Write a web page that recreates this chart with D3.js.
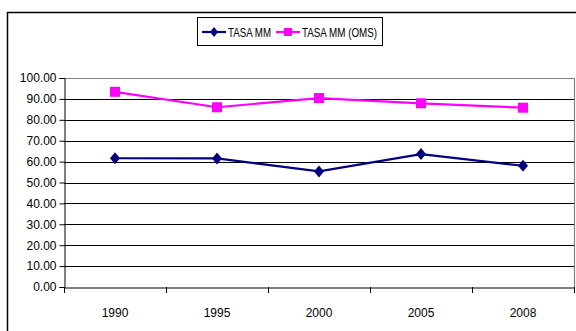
<!DOCTYPE html>
<html><head><meta charset="utf-8">
<script src="https://cdn.jsdelivr.net/npm/d3@7"></script>
<style>body{margin:0;background:#fff}svg{display:block}</style>
</head><body>
<svg id="c" width="576" height="331"></svg>
<script>
const years = ["1990","1995","2000","2005","2008"];
const tasaMM = [61.6, 61.5, 55.3, 63.6, 58.0];
const tasaOMS = [93.4, 86.0, 90.4, 87.9, 85.8];
const yTicks = [0,10,20,30,40,50,60,70,80,90,100];
const seriesNames = ["TASA MM","TASA MM (OMS)"];

const svg = d3.select("#c");
const L = 64, R = 574, T = 78, B = 287;
const x = d3.scaleBand().domain(years).range([L, R]);
const y = d3.scaleLinear().domain([0, 100]).range([B, T]);
const font = "'Liberation Sans', Arial, sans-serif";

// outer chart border
svg.append("path").attr("d", "M7.5,340 V12.5 H590").attr("fill","none").attr("stroke","#000").attr("stroke-width",1.5);

// gridlines
svg.append("g").selectAll("line").data(yTicks.filter(d=>d>0 && d<100)).join("line")
  .attr("x1", L).attr("x2", R).attr("y1", d=>Math.round(y(d))+0.5).attr("y2", d=>Math.round(y(d))+0.5)
  .attr("stroke", "#000").attr("stroke-width", 1.2);
// plot frame top/right gray
svg.append("path").attr("d", `M${L},${T+0.5} H${R+0.5} V${B}`).attr("fill","none").attr("stroke","#808080").attr("stroke-width",1.2);

// y axis
const yAxis = d3.axisLeft(y).tickValues(yTicks).tickFormat(d3.format(".2f")).tickSize(5).tickPadding(3);
const gy = svg.append("g").attr("transform", `translate(${L+0.5},0)`).call(yAxis);
gy.select(".domain").attr("stroke","#000");
gy.selectAll("line").attr("stroke","#000");
gy.selectAll("text").attr("font-family", font).attr("font-size", "12px").attr("fill","#000");

// x axis
const xAxis = d3.axisBottom(x).tickSize(0).tickPadding(0).tickFormat(d=>d);
const gx = svg.append("g").attr("transform", `translate(0,${B+0.5})`).call(xAxis);
gx.select(".domain").attr("stroke","#000").attr("stroke-width",1.2);
gx.selectAll("text").attr("font-family", font).attr("font-size","12px").attr("fill","#000").attr("dy", 0).attr("y", 29);
// category boundary ticks
const bounds = years.map(d => x(d)).concat([x(years[years.length-1]) + x.bandwidth()]);
svg.append("g").selectAll("line").data(bounds).join("line")
  .attr("x1", d=>Math.round(d)+0.5).attr("x2", d=>Math.round(d)+0.5)
  .attr("y1", B).attr("y2", B+6).attr("stroke","#000");

const cx = d => x(d) + x.bandwidth()/2;
const line = d3.line().x((d,i)=>cx(years[i])).y(d=>y(d));

function drawSeries(vals, color, shape) {
  svg.append("path").datum(vals).attr("d", line).attr("fill","none").attr("stroke", color).attr("stroke-width", 2.2);
  const g = svg.append("g");
  vals.forEach((v,i)=>{
    const px = cx(years[i]), py = y(v);
    if (shape === "diamond") {
      g.append("path").attr("d", `M${px},${py-6} L${px+5},${py} L${px},${py+6} L${px-5},${py} Z`).attr("fill", color);
    } else {
      g.append("rect").attr("x", px-5).attr("y", py-5).attr("width",10).attr("height",10).attr("fill", color);
    }
  });
}
drawSeries(tasaMM, "#000080", "diamond");
drawSeries(tasaOMS, "#FF00FF", "square");

// legend
const lg = svg.append("g");
lg.append("rect").attr("x", 197.5).attr("y", 17.5).attr("width", 185).attr("height", 28).attr("fill","#fff").attr("stroke","#000").attr("stroke-width",1);
const items = [
  {name: seriesNames[0], color:"#000080", shape:"diamond", x0: 202, tx: 228, tw: 43},
  {name: seriesNames[1], color:"#FF00FF", shape:"square", x0: 276, tx: 302, tw: 75}
];
items.forEach(it=>{
  const ly = 32;
  lg.append("line").attr("x1", it.x0).attr("x2", it.x0+24).attr("y1", ly).attr("y2", ly).attr("stroke", it.color).attr("stroke-width", 2.2);
  const mx = it.x0 + 12;
  if (it.shape === "diamond") lg.append("path").attr("d", `M${mx},${ly-5} L${mx+4},${ly} L${mx},${ly+5} L${mx-4},${ly} Z`).attr("fill", it.color);
  else lg.append("rect").attr("x", mx-4).attr("y", ly-4).attr("width",8).attr("height",8).attr("fill", it.color);
  lg.append("text").attr("x", it.tx).attr("y", ly+5).attr("font-family", "'Liberation Sans Narrow', "+font)
    .attr("font-size","13.5px").attr("textLength", it.tw).attr("lengthAdjust","spacingAndGlyphs").text(it.name);
});
</script>
</body></html>
